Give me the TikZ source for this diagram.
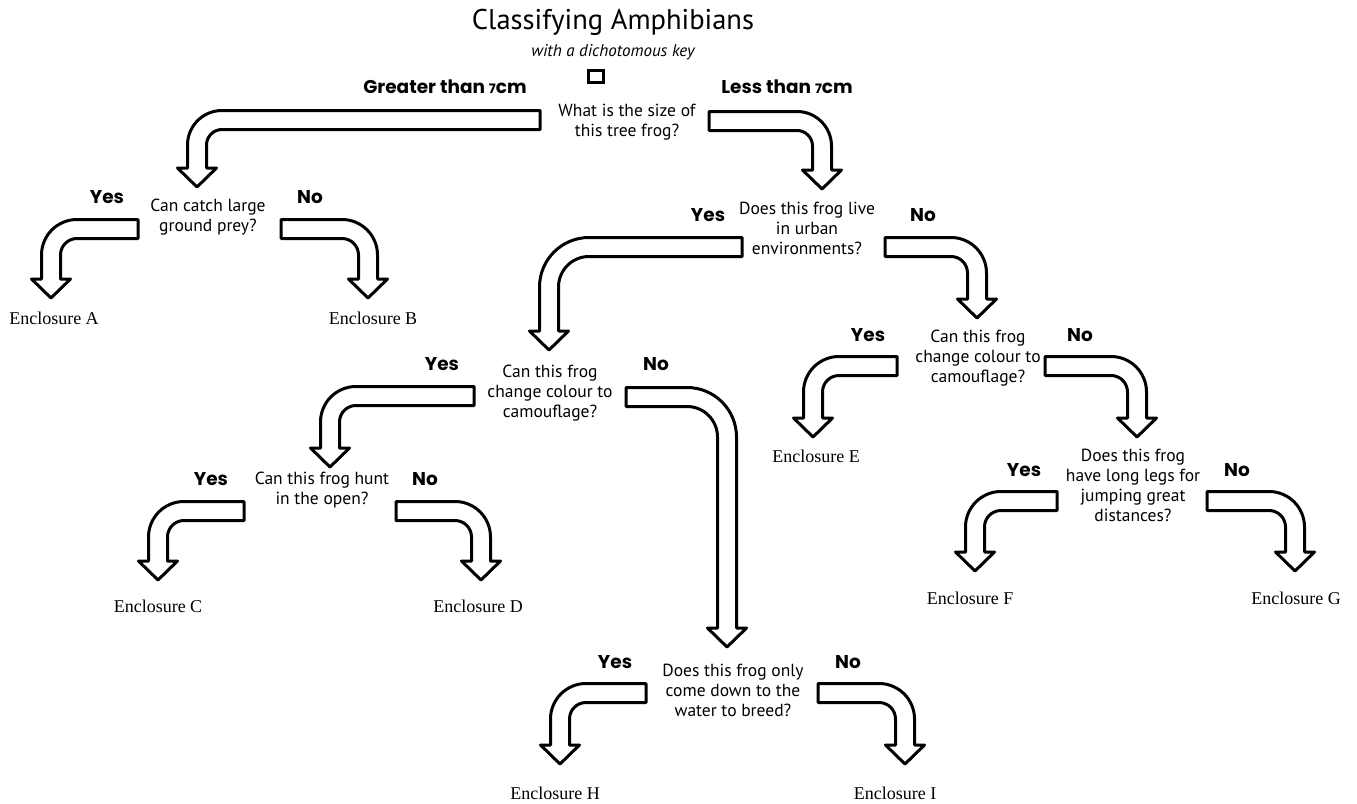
\documentclass[tikz,border=0pt]{standalone}
\usepackage{fontspec}
\newfontfamily\qfont{PT Sans}
\newfontfamily\lfont{Poppins}
\newfontfamily\efont{Liberation Serif}
\usetikzlibrary{calc}
% bent block arrow: #1 start (flat end, band centre), #2 tip, #3 direction (1 right, -1 left), #4 bend radius
\newcommand\bentarrow[4]{%
  \draw[blockarrow] let \p1=(#1), \p2=(#2) in
    (\x1,{\y1+9.5pt}) -- ({\x2+(#3)*9.5pt-(#3)*(#4pt+9.5pt)},{\y1+9.5pt})
    arc[start angle=90, end angle={90-(#3)*90}, radius={#4pt+9.5pt}]
    -- ({\x2+(#3)*9.5pt},{\y2+19pt}) -- ({\x2+(#3)*19.5pt},{\y2+19pt}) -- (\x2,\y2)
    -- ({\x2-(#3)*19.5pt},{\y2+19pt}) -- ({\x2-(#3)*9.5pt},{\y2+19pt})
    -- ({\x2-(#3)*9.5pt},{\y1-9.5pt-(#4pt-9.5pt)})
    arc[start angle={90-(#3)*90}, end angle=90, radius={#4pt-9.5pt}]
    -- (\x1,{\y1-9.5pt}) -- cycle;}
\newcommand\sevn{{\fontsize{13}{13}\selectfont 7}}
\begin{document}
\begin{tikzpicture}[x=1pt,y=1pt,
  qtext/.style={font=\qfont\fontsize{17.5}{20}\selectfont, align=center, inner sep=0pt},
  yn/.style={font=\lfont\bfseries\fontsize{18.5}{20}\selectfont, inner sep=0pt},
  enc/.style={font=\efont\fontsize{18}{20}\selectfont, inner sep=0pt},
  blockarrow/.style={draw=black, line width=3pt, fill=white, line join=round}]
\useasboundingbox (0,0) rectangle (1357,-803);
\fill[white] (0,0) rectangle (1357,-803);

% title
\node[font=\qfont\fontsize{28.5}{30}\selectfont, inner sep=0pt] (title) at (613,-22) {Classifying Amphibians};
\node[font=\qfont\itshape\fontsize{17}{20}\selectfont, inner sep=0pt] (subtitle) at (613,-52) {with a dichotomous key};
\node[draw, line width=3pt, minimum width=15pt, minimum height=12pt, inner sep=0pt] (stub) at (595.5,-76.5) {};

% questions
\node[qtext] (q0) at (627,-122) {What is the size of\\this tree frog?};
\node[qtext] (q1) at (208,-217) {Can catch large\\ground prey?};
\node[qtext] (q2) at (807,-228) {Does this frog live\\in urban\\environments?};
\node[qtext] (q3) at (550,-393) {Can this frog\\change colour to\\camouflage?};
\node[qtext] (q4) at (322,-490) {Can this frog hunt\\in the open?};
\node[qtext] (q5) at (978,-358) {Can this frog\\change colour to\\camouflage?};
\node[qtext] (q6) at (1133,-485) {Does this frog\\have long legs for\\jumping great\\distances?};
\node[qtext] (q7) at (733,-690) {Does this frog only\\come down to the\\water to breed?};

% branch labels
\node[yn] (g0) at (445,-87) {Greater than \sevn cm};
\node[yn] (l0) at (787,-87) {Less than \sevn cm};
\node[yn] (y1) at (107,-197) {Yes};
\node[yn] (n1) at (310,-197) {No};
\node[yn] (y2) at (708,-215) {Yes};
\node[yn] (n2) at (923,-215) {No};
\node[yn] (y3) at (442,-364) {Yes};
\node[yn] (n3) at (656,-364) {No};
\node[yn] (y4) at (211,-479) {Yes};
\node[yn] (n4) at (425,-479) {No};
\node[yn] (y5) at (868,-335) {Yes};
\node[yn] (n5) at (1080,-335) {No};
\node[yn] (y6) at (1024,-470) {Yes};
\node[yn] (n6) at (1237,-470) {No};
\node[yn] (y7) at (615,-662) {Yes};
\node[yn] (n7) at (848,-662) {No};

% enclosures
\node[enc] (eA) at (54,-318) {Enclosure A};
\node[enc] (eB) at (373,-318) {Enclosure B};
\node[enc] (eC) at (158,-606) {Enclosure C};
\node[enc] (eD) at (478,-606) {Enclosure D};
\node[enc] (eE) at (816,-456) {Enclosure E};
\node[enc] (eF) at (970,-598) {Enclosure F};
\node[enc] (eG) at (1296,-598) {Enclosure G};
\node[enc] (eH) at (555,-793) {Enclosure H};
\node[enc] (eI) at (895,-793) {Enclosure I};

% arrow ends
\coordinate (a0ys) at (540,-120);  \coordinate (a0yt) at (197,-187);
\coordinate (a0ns) at (709,-121);  \coordinate (a0nt) at (822,-189);
\coordinate (a1ys) at (138,-229);  \coordinate (a1yt) at (51,-298);
\coordinate (a1ns) at (281,-229);  \coordinate (a1nt) at (368,-298);
\coordinate (a2ys) at (742,-247);  \coordinate (a2yt) at (549,-350);
\coordinate (a2ns) at (885,-247);  \coordinate (a2nt) at (977,-318);
\coordinate (a3ys) at (474,-396);  \coordinate (a3yt) at (330,-467);
\coordinate (a3ns) at (626,-397);  \coordinate (a3nt) at (727,-647);
\coordinate (a4ys) at (244,-511);  \coordinate (a4yt) at (158,-580);
\coordinate (a4ns) at (396,-511);  \coordinate (a4nt) at (481,-580);
\coordinate (a5ys) at (897,-366);  \coordinate (a5yt) at (813,-437);
\coordinate (a5ns) at (1045,-366); \coordinate (a5nt) at (1137,-437);
\coordinate (a6ys) at (1057,-501); \coordinate (a6yt) at (975,-571);
\coordinate (a6ns) at (1207,-501); \coordinate (a6nt) at (1295,-571);
\coordinate (a7ys) at (646,-693);  \coordinate (a7yt) at (560,-764);
\coordinate (a7ns) at (818,-693);  \coordinate (a7nt) at (905,-764);

\bentarrow{a0ys}{a0yt}{-1}{25}
\bentarrow{a0ns}{a0nt}{1}{25}
\bentarrow{a1ys}{a1yt}{-1}{26}
\bentarrow{a1ns}{a1nt}{1}{26}
\bentarrow{a2ys}{a2yt}{-1}{40}
\bentarrow{a2ns}{a2nt}{1}{26}
\bentarrow{a3ys}{a3yt}{-1}{26}
\bentarrow{a3ns}{a3nt}{1}{40}
\bentarrow{a4ys}{a4yt}{-1}{26}
\bentarrow{a4ns}{a4nt}{1}{26}
\bentarrow{a5ys}{a5yt}{-1}{26}
\bentarrow{a5ns}{a5nt}{1}{26}
\bentarrow{a6ys}{a6yt}{-1}{26}
\bentarrow{a6ns}{a6nt}{1}{26}
\bentarrow{a7ys}{a7yt}{-1}{26}
\bentarrow{a7ns}{a7nt}{1}{26}
\end{tikzpicture}
\end{document}
